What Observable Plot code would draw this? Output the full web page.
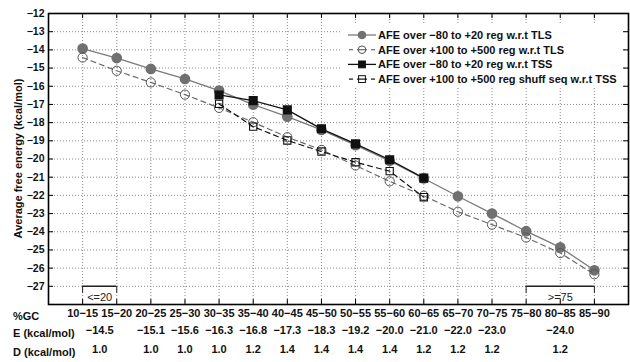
<!DOCTYPE html>
<html><head><meta charset="utf-8">
<script src="https://cdn.jsdelivr.net/npm/d3@7"></script>
<script src="https://cdn.jsdelivr.net/npm/@observablehq/plot@0.6"></script>
<style>
body{margin:0;background:#fff;}
#wrap{position:relative;width:630px;height:362px;font-family:"Liberation Sans",Arial,sans-serif;}
#wrap svg{display:block;}
#legend{position:absolute;left:0;top:0;pointer-events:none;}
</style></head><body><div id="wrap"></div>
<script>
// ---------- data ----------
const gcBins = ["10−15","15−20","20−25","25−30","30−35","35−40","40−45","45−50","50−55","55−60","60−65","65−70","70−75","75−80","80−85","85−90"];
const afeTLS      = [-13.93,-14.45,-15.05,-15.60,-16.24,-17.01,-17.67,-18.40,-19.24,-20.10,-21.07,-22.05,-23.00,-23.97,-24.86,-26.12];
const afeTLSdown  = [-14.42,-15.15,-15.79,-16.46,-17.19,-17.98,-18.80,-19.50,-20.36,-21.23,-22.02,-22.90,-23.61,-24.32,-25.17,-26.34];
const tssBins     = ["30−35","35−40","40−45","45−50","50−55","55−60","60−65"];
const afeTSS      = [-16.48,-16.79,-17.30,-18.34,-19.17,-20.04,-21.05];
const afeShuff    = [-16.97,-18.22,-18.98,-19.59,-20.18,-20.67,-22.10];
const yTicks      = [-12,-13,-14,-15,-16,-17,-18,-19,-20,-21,-22,-23,-24,-25,-26,-27];
const groups      = [["10−15","15−20"],["20−25"],["25−30"],["30−35"],["35−40"],["40−45"],["45−50"],["50−55"],["55−60"],["60−65"],["65−70"],["70−75"],["75−80","80−85","85−90"]];
const eValues     = ["−14.5","−15.1","−15.6","−16.3","−16.8","−17.3","−18.3","−19.2","−20.0","−21.0","−22.0","−23.0","−24.0"];
const dValues     = ["1.0","1.0","1.0","1.0","1.2","1.4","1.4","1.4","1.4","1.2","1.2","1.2","1.2"];
const rowHeaders  = ["%GC","E (kcal/mol)","D (kcal/mol)"];
const brackets    = [{label:"<=20", from:"10−15", to:"15−20"},{label:">=75", from:"75−80", to:"85−90"}];
const bracketLevel = -27;
const seriesNames = ["AFE over −80 to +20 reg w.r.t TLS","AFE over +100 to +500 reg w.r.t TLS","AFE over −80 to +20 reg w.r.t TSS","AFE over +100 to +500 reg shuff seq w.r.t TSS"];
const yLabel = "Average free energy (kcal/mol)";

// ---------- tables ----------
const idx = b => gcBins.indexOf(b);
const tls = gcBins.map((b,i)=>({x:i, y:afeTLS[i]}));
const tlsDown = gcBins.map((b,i)=>({x:i, y:afeTLSdown[i]}));
const tss = tssBins.map((b,i)=>({x:idx(b), y:afeTSS[i]}));
const shuff = tssBins.map((b,i)=>({x:idx(b), y:afeShuff[i]}));
const groupPos = groups.map(g => d3.mean(g, idx));
const eRows = groupPos.map((x,i)=>({x, t:eValues[i]}));
const dRows = groupPos.map((x,i)=>({x, t:dValues[i]}));
const br = brackets.map(b=>({x1:idx(b.from), x2:idx(b.to), label:b.label}));
const brEnds = br.flatMap(b=>[b.x1,b.x2]);
const xTicks = gcBins.map((b,i)=>i);

const W=630,H=362,ML=48,MR=2,MT=13,MB=58;
const PW=W-ML-MR, PH=H-MT-MB, TK=5;
const FONT="Liberation Sans, Arial, sans-serif";
const gridStyle={stroke:"#8a8a8a", strokeOpacity:1, strokeDasharray:"1,2", strokeWidth:1};
const rowDy=[12, 29.5, 48.5];

const plot = Plot.plot({
  width:W, height:H, marginLeft:ML, marginRight:MR, marginTop:MT, marginBottom:MB,
  style:{fontFamily:FONT, background:"white", overflow:"visible"},
  x:{domain:[-1,16], axis:null},
  y:{domain:[-28,-12], axis:null},
  marks:[
    Plot.gridX(xTicks, gridStyle),
    Plot.gridY(yTicks.slice(1), gridStyle),
    // inward ticks
    Plot.tickY(yTicks, {y:d=>d, stroke:"black", strokeWidth:1, insetRight:PW-TK}),
    Plot.tickY(yTicks, {y:d=>d, stroke:"black", strokeWidth:1, insetLeft:PW-TK}),
    Plot.tickX(xTicks, {x:d=>d, stroke:"black", strokeWidth:1, insetBottom:PH-TK}),
    Plot.tickX(xTicks, {x:d=>d, stroke:"black", strokeWidth:1, insetTop:PH-TK}),
    // y tick labels
    Plot.text(yTicks, {y:d=>d, frameAnchor:"left", dx:-4, textAnchor:"end", text:d=>d3.format("d")(d).replace("-","−"), fontSize:10.5, fontWeight:"bold", fill:"#111"}),
    // brackets
    Plot.ruleY(br, {x1:"x1", x2:"x2", y:()=>bracketLevel, stroke:"#222", strokeWidth:1.5}),
    Plot.ruleX(brEnds, {x:d=>d, y1:()=>bracketLevel, y2:()=>bracketLevel, insetBottom:-7, stroke:"#222", strokeWidth:1}),
    Plot.text(br, {x:d=>(d.x1+d.x2)/2, y:()=>bracketLevel, dy:11, text:"label", fontSize:11, fill:"#222"}),
    // series
    Plot.line(tls, {x:"x", y:"y", stroke:"#7a7a7a", strokeWidth:1.3}),
    Plot.dot(tls, {x:"x", y:"y", r:4.6, fill:"#707070", stroke:"#707070"}),
    Plot.line(tlsDown, {x:"x", y:"y", stroke:"#6a6a6a", strokeWidth:1.2, strokeDasharray:"5,4"}),
    Plot.dot(tlsDown, {x:"x", y:"y", r:4.6, fill:"none", stroke:"#555", strokeWidth:1}),
    Plot.line(tss, {x:"x", y:"y", stroke:"#111", strokeWidth:1.3}),
    Plot.dot(tss, {x:"x", y:"y", r:4.3, symbol:"square", fill:"#111", stroke:"#111"}),
    Plot.line(shuff, {x:"x", y:"y", stroke:"#111", strokeWidth:1.2, strokeDasharray:"5,4"}),
    Plot.dot(shuff, {x:"x", y:"y", r:4.1, symbol:"square", fill:"none", stroke:"#111", strokeWidth:1.1}),
    Plot.frame({stroke:"black", strokeWidth:1.6}),
    // table below
    Plot.text(gcBins, {x:(d,i)=>i, frameAnchor:"bottom", dy:rowDy[0], text:d=>d, fontSize:11, fontWeight:"bold", fill:"#111"}),
    Plot.text(eRows, {x:"x", frameAnchor:"bottom", dy:rowDy[1], text:"t", fontSize:11, fontWeight:"bold", fill:"#111"}),
    Plot.text(dRows, {x:"x", frameAnchor:"bottom", dy:rowDy[2], text:"t", fontSize:11, fontWeight:"bold", fill:"#111"})
  ]
});
document.getElementById("wrap").appendChild(plot);

// ---------- overlay: legend, y label, row headers ----------
const lg = d3.select("#wrap").append("svg").attr("id","legend").attr("width",W).attr("height",H)
  .attr("font-family",FONT);
lg.append("text").attr("transform",`translate(18,${MT+PH/2}) rotate(-90)`).attr("text-anchor","middle")
  .attr("dy","0.35em").attr("font-size",11).attr("font-weight","bold").attr("fill","#111").text(yLabel);
rowHeaders.forEach((h,i)=>{
  lg.append("text").attr("x",13).attr("y",H-MB+rowDy[i]).attr("dy","0.35em").attr("font-size",11)
    .attr("font-weight","bold").attr("fill","#111").text(h);
});
lg.append("rect").attr("x",341).attr("y",24).attr("width",281).attr("height",64).attr("fill","white");
const styles = [
  {stroke:"#7a7a7a", dash:false, sym:"circle", fill:"#707070", mstroke:"#707070"},
  {stroke:"#6a6a6a", dash:true, sym:"circle", fill:"none", mstroke:"#555"},
  {stroke:"#111", dash:false, sym:"square", fill:"#111", mstroke:"#111"},
  {stroke:"#111", dash:true, sym:"square", fill:"none", mstroke:"#111"}
];
seriesNames.forEach((name,i)=>{
  const s=styles[i], cy=35+i*14.7, g=lg.append("g");
  if (!s.dash) {
    g.append("line").attr("x1",348).attr("x2",376).attr("y1",cy).attr("y2",cy).attr("stroke",s.stroke).attr("stroke-width",1.3);
  } else {
    [[349,353],[357,367],[371,375]].forEach(([a,b])=>g.append("line").attr("x1",a).attr("x2",b).attr("y1",cy).attr("y2",cy).attr("stroke",s.stroke).attr("stroke-width",1.2));
  }
  if (s.sym==="circle") g.append("circle").attr("cx",362).attr("cy",cy).attr("r",3.8).attr("fill",s.fill).attr("stroke",s.mstroke);
  else g.append("rect").attr("x",358.6).attr("y",cy-3.4).attr("width",6.8).attr("height",6.8).attr("fill",s.fill).attr("stroke",s.mstroke);
  g.append("text").attr("x",378).attr("y",cy).attr("dy","0.35em").attr("font-size",11).attr("font-weight","bold").attr("fill","#111").text(name);
});
</script></body></html>
